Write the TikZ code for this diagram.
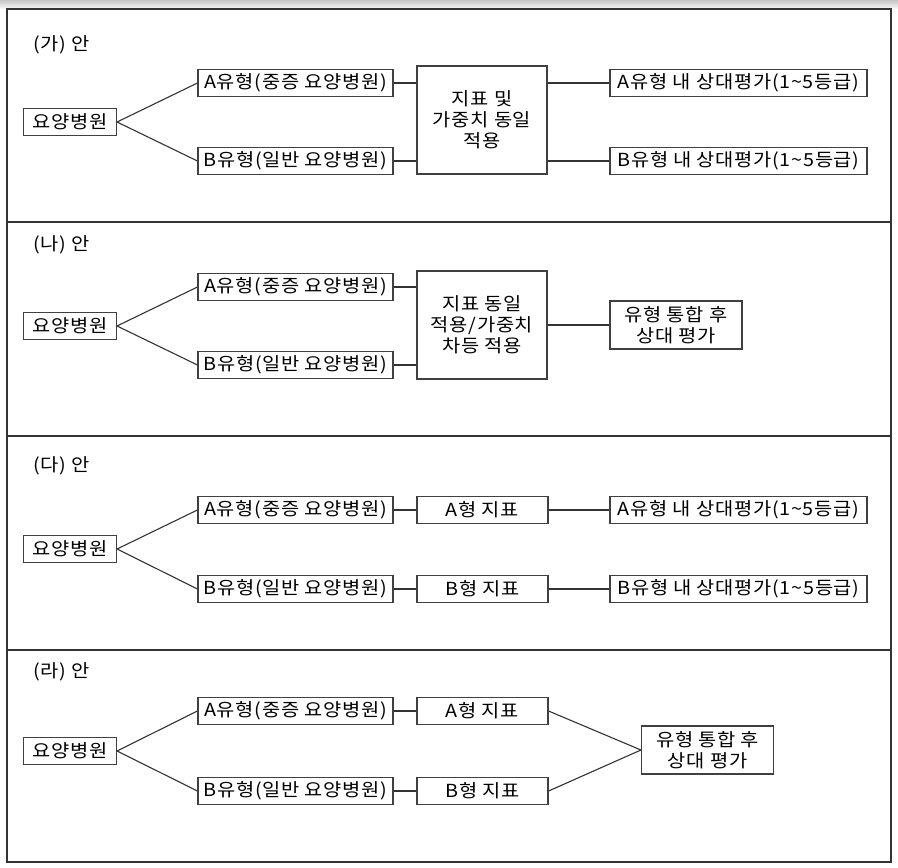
\documentclass[tikz,border=0pt]{standalone}
\usepackage{fontspec}
\setmainfont{Noto Sans CJK KR}[FakeStretch=1.1]
\begin{document}
\begin{tikzpicture}[x=1pt,y=-1pt,
  txt/.style={font=\fontsize{18}{21}\selectfont\addfontfeature{LetterSpace=4}},
  box/.style={draw=black!75, line width=1.1pt, inner sep=0pt, align=center, fill=white, txt},
  hbox/.style={box, minimum width=93, minimum height=27},
  tbox/.style={box, minimum width=195, minimum height=27},
  mbox/.style={box, minimum width=131, minimum height=27},
  rbox/.style={box, minimum width=257, minimum height=27},
  cbox/.style={box, minimum width=130, minimum height=108},
  ubox/.style={box, minimum width=132, minimum height=48},
  conn/.style={draw=black!80, line width=1.1pt},
  frame/.style={draw=black!80, line width=1.2pt},
  lbl/.style={anchor=west, inner sep=0pt, txt}]
\useasboundingbox (0,0) rectangle (898,868);
\shade[top color=gray!45, bottom color=gray!8] (0,0) rectangle (898,8);
% frame
\draw[frame] (7,9) rectangle (891,862);
\draw[frame] (7,222) -- (891,222);
\draw[frame, line width=1.6pt] (7,436) -- (891,436);
\draw[frame] (7,650) -- (891,650);

% (가)
\node[lbl] (l1) at (33,45) {(가) 안};
\node[hbox] (h1) at (70,122) {요양병원};
\node[tbox] (a1) at (295.5,83) {A유형(중증 요양병원)};
\node[tbox] (b1) at (295.5,161) {B유형(일반 요양병원)};
\node[cbox] (c1) at (482,120) {지표 및\\가중치 동일\\적용};
\node[rbox] (ra1) at (738.5,83) {A유형 내 상대평가(1\textasciitilde5등급)};
\node[rbox] (rb1) at (738.5,161) {B유형 내 상대평가(1\textasciitilde5등급)};
\draw[conn] (h1.east) -- (a1.west);
\draw[conn] (h1.east) -- (b1.west);
\draw[conn] (a1.east) -- (a1.east -| c1.west);
\draw[conn] (b1.east) -- (b1.east -| c1.west);
\draw[conn] (ra1.west -| c1.east) -- (ra1.west);
\draw[conn] (rb1.west -| c1.east) -- (rb1.west);

% (나)
\node[lbl] (l2) at (33,245) {(나) 안};
\node[hbox] (h2) at (70,326) {요양병원};
\node[tbox] (a2) at (295.5,287) {A유형(중증 요양병원)};
\node[tbox] (b2) at (295.5,365) {B유형(일반 요양병원)};
\node[cbox] (c2) at (482,325) {지표 동일\\적용/가중치\\차등 적용};
\node[ubox] (r2) at (676,325) {유형 통합 후\\상대 평가};
\draw[conn] (h2.east) -- (a2.west);
\draw[conn] (h2.east) -- (b2.west);
\draw[conn] (a2.east) -- (a2.east -| c2.west);
\draw[conn] (b2.east) -- (b2.east -| c2.west);
\draw[conn] (c2.east) -- (r2.west);

% (다)
\node[lbl] (l3) at (33,466) {(다) 안};
\node[hbox] (h3) at (70,549) {요양병원};
\node[tbox] (a3) at (295.5,510) {A유형(중증 요양병원)};
\node[tbox] (b3) at (295.5,589) {B유형(일반 요양병원)};
\node[mbox] (m3a) at (482.5,510) {A형 지표};
\node[mbox] (m3b) at (482.5,589) {B형 지표};
\node[rbox] (r3a) at (738.5,510) {A유형 내 상대평가(1\textasciitilde5등급)};
\node[rbox] (r3b) at (738.5,589) {B유형 내 상대평가(1\textasciitilde5등급)};
\draw[conn] (h3.east) -- (a3.west);
\draw[conn] (h3.east) -- (b3.west);
\draw[conn] (a3.east) -- (m3a.west);
\draw[conn] (b3.east) -- (m3b.west);
\draw[conn] (m3a.east) -- (r3a.west);
\draw[conn] (m3b.east) -- (r3b.west);

% (라)
\node[lbl] (l4) at (33,672) {(라) 안};
\node[hbox] (h4) at (70,751) {요양병원};
\node[tbox] (a4) at (295.5,711) {A유형(중증 요양병원)};
\node[tbox] (b4) at (295.5,791) {B유형(일반 요양병원)};
\node[mbox] (m4a) at (482.5,711) {A형 지표};
\node[mbox] (m4b) at (482.5,791) {B형 지표};
\node[ubox] (r4) at (707.5,750) {유형 통합 후\\상대 평가};
\draw[conn] (h4.east) -- (a4.west);
\draw[conn] (h4.east) -- (b4.west);
\draw[conn] (a4.east) -- (m4a.west);
\draw[conn] (b4.east) -- (m4b.west);
\draw[conn] (m4a.east) -- (r4.west);
\draw[conn] (m4b.east) -- (r4.west);
\end{tikzpicture}
\end{document}
